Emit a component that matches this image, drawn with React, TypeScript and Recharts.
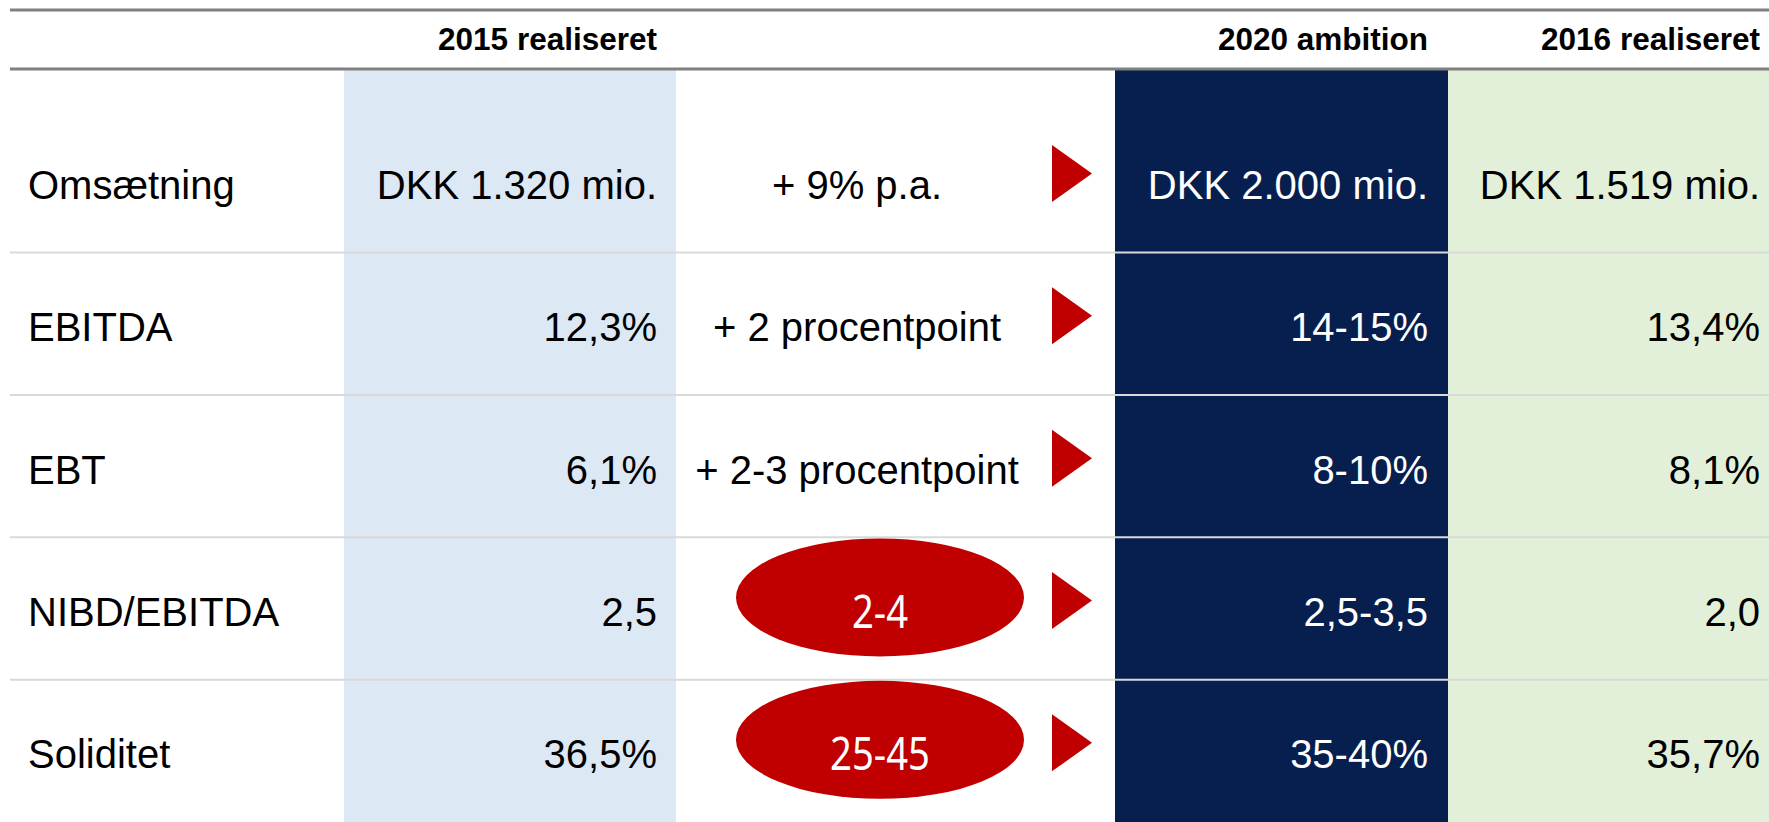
import { ComposedChart, ReferenceArea, ReferenceLine, Scatter, XAxis, YAxis } from 'recharts';

// ─────────────────────────────────────────────
// Data
// ─────────────────────────────────────────────
const METRICS = ['Omsætning', 'EBITDA', 'EBT', 'NIBD/EBITDA', 'Soliditet'];
const REAL_2015 = ['DKK 1.320 mio.', '12,3%', '6,1%', '2,5', '36,5%'];
const CHANGE = ['+ 9% p.a.', '+ 2 procentpoint', '+ 2-3 procentpoint', '2-4', '25-45'];
const CHANGE_IS_BADGE = [false, false, false, true, true];
const AMBITION_2020 = ['DKK 2.000 mio.', '14-15%', '8-10%', '2,5-3,5', '35-40%'];
const REAL_2016 = ['DKK 1.519 mio.', '13,4%', '8,1%', '2,0', '35,7%'];
const HEADERS = ['2015 realiseret', '2020 ambition', '2016 realiseret'];

// ─────────────────────────────────────────────
// Layout (x in pixel-like units of the hidden x axis)
// ─────────────────────────────────────────────
const W = 1769;
const H = 822;
const X_MIN = 10;
const LABEL_X = 28;
const COL_2015 = [344, 676];
const COL_2020 = [1115, 1448];
const COL_2016 = [1448, 1769];
const RIGHT_2015 = 657;
const RIGHT_2020 = 1428;
const RIGHT_2016 = 1760;
const CHANGE_X = 857;
const BADGE_X = 880;
const ARROW_X = 1072;

const NAVY = '#071F4E';
const LIGHT_BLUE = '#DDE8F5';
const LIGHT_GREEN = '#E2F0D9';
const RED = '#C00000';
const FONT = '"Liberation Sans", Arial, sans-serif';
const BODY_SIZE = 40;
const BADGE_SIZE = 45;

type Cell = { x: number; y: number; text: string; badge?: boolean };

function column(values: string[], x: number): Cell[] {
  return values.map((text, i) => ({ x, y: i, text }));
}

const labelCells = column(METRICS, LABEL_X);
const cells2015 = column(REAL_2015, RIGHT_2015);
const cells2020 = column(AMBITION_2020, RIGHT_2020);
const cells2016 = column(REAL_2016, RIGHT_2016);
const changeCells: Cell[] = CHANGE.map((text, i) => ({
  x: CHANGE_IS_BADGE[i] ? BADGE_X : CHANGE_X,
  y: i,
  text,
  badge: CHANGE_IS_BADGE[i],
}));
const arrowCells = column(METRICS, ARROW_X);
const separators = METRICS.slice(1).map((_, i) => i + 0.5);

// ─────────────────────────────────────────────
// Shapes
// ─────────────────────────────────────────────
function textShape(anchor: 'start' | 'middle' | 'end', fill: string) {
  return (props: any) => {
    const { cx, cy, payload } = props;
    return (
      <text
        x={cx}
        y={cy + BODY_SIZE * 0.36 + 3}
        textAnchor={anchor}
        fill={fill}
        fontSize={BODY_SIZE}
        fontFamily={FONT}
      >
        {payload.text}
      </text>
    );
  };
}

function ChangeShape(props: any) {
  const { cx, cy, payload } = props;
  if (payload.badge) {
    return (
      <g>
        <ellipse cx={cx} cy={cy - 11} rx={144} ry={59} fill={RED} />
        {/* Calibri-like narrow digits */}
        <g transform={`translate(${cx},${cy + 3 + BADGE_SIZE * 0.357}) scale(0.85,1)`}>
          <text
            x={0}
            y={0}
            textAnchor="middle"
            fill="#fff"
            fontSize={BADGE_SIZE}
            fontFamily='"Noto Sans", "Open Sans", sans-serif'
          >
            {payload.text}
          </text>
        </g>
      </g>
    );
  }
  return textShape('middle', '#000')(props);
}

function ArrowShape(props: any) {
  const { cx, cy } = props;
  const c = cy - 8;
  return (
    <polygon
      points={`${cx - 20},${c - 28.5} ${cx + 20},${c} ${cx - 20},${c + 28.5}`}
      fill={RED}
    />
  );
}

function HeaderTick(props: any) {
  const { x, y, index } = props;
  return (
    <text
      x={x}
      y={y}
      textAnchor="end"
      fill="#000"
      fontSize={31.5}
      fontWeight="bold"
      fontFamily={FONT}
    >
      {HEADERS[index]}
    </text>
  );
}

export default function App() {
  return (
    <div style={{ width: W, height: H, background: '#fff' }}>
      <style>{'body{margin:0;overflow:hidden}'}</style>
      <ComposedChart width={W} height={H} margin={{ top: 0, right: 0, bottom: 0, left: X_MIN }}>
        <XAxis
          type="number"
          dataKey="x"
          orientation="top"
          domain={[X_MIN, W]}
          allowDataOverflow
          height={59}
          ticks={[RIGHT_2015, RIGHT_2020, RIGHT_2016]}
          interval={0}
          tick={<HeaderTick />}
          tickLine={false}
          tickSize={0}
          tickMargin={19}
          axisLine={{ stroke: '#808080', strokeWidth: 3 }}
        />
        <XAxis
          xAxisId="frame"
          type="number"
          orientation="top"
          domain={[X_MIN, W]}
          height={10}
          tick={false}
          tickLine={false}
          axisLine={{ stroke: '#808080', strokeWidth: 3 }}
        />
        <YAxis type="number" dataKey="y" domain={[-0.79, 4.5]} reversed hide allowDataOverflow />

        <ReferenceArea x1={COL_2015[0]} x2={COL_2015[1]} fill={LIGHT_BLUE} fillOpacity={1} stroke="none" />
        <ReferenceArea x1={COL_2020[0]} x2={COL_2020[1]} fill={NAVY} fillOpacity={1} stroke="none" />
        <ReferenceArea x1={COL_2016[0]} x2={COL_2016[1]} fill={LIGHT_GREEN} fillOpacity={1} stroke="none" />
        {separators.map((s) => (
          <ReferenceLine key={s} y={s} stroke="#D9D9D9" strokeWidth={2} />
        ))}

        <Scatter data={labelCells} shape={textShape('start', '#000')} isAnimationActive={false} />
        <Scatter data={cells2015} shape={textShape('end', '#000')} isAnimationActive={false} />
        <Scatter data={changeCells} shape={ChangeShape} isAnimationActive={false} />
        <Scatter data={arrowCells} shape={ArrowShape} isAnimationActive={false} />
        <Scatter data={cells2020} shape={textShape('end', '#fff')} isAnimationActive={false} />
        <Scatter data={cells2016} shape={textShape('end', '#000')} isAnimationActive={false} />
      </ComposedChart>
    </div>
  );
}
